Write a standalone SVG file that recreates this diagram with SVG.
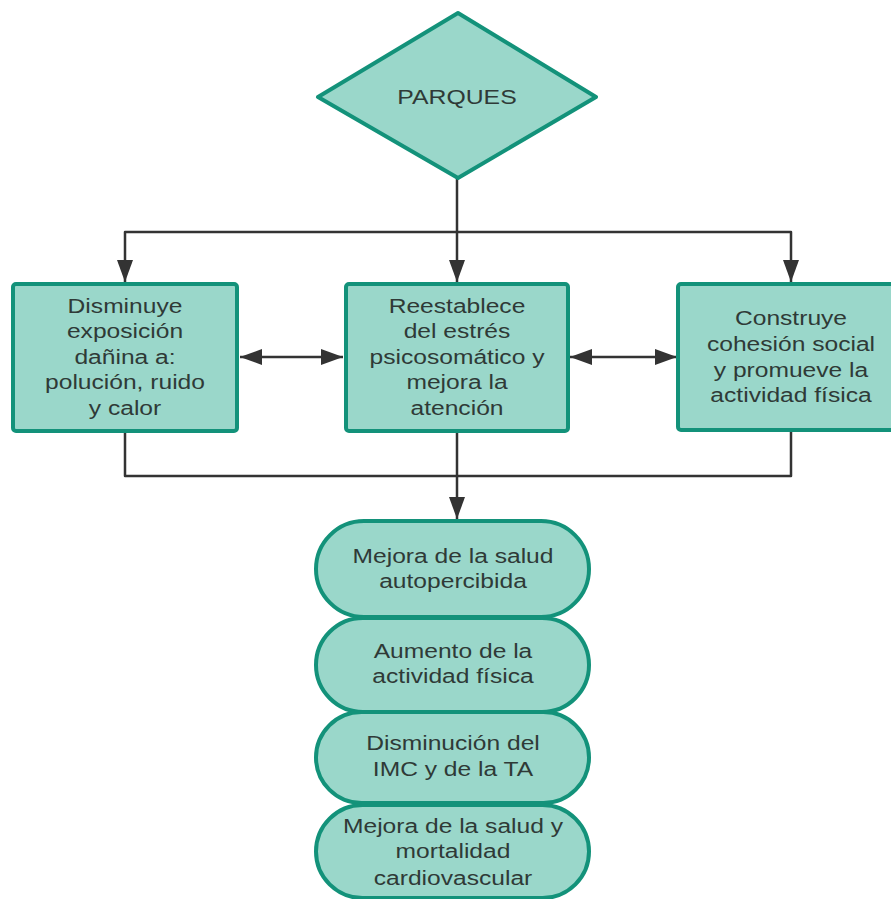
<svg xmlns="http://www.w3.org/2000/svg" width="891" height="899" viewBox="0 0 891 899">
<defs>
<style>
.shape{fill:#9ad7ca;stroke:#13927a;stroke-width:4;stroke-linejoin:round}
.line{fill:none;stroke:#333333;stroke-width:2.5;stroke-linejoin:round}
.txt{font-family:"Liberation Sans",Arial,sans-serif;font-size:20px;fill:#2f3a37;text-anchor:middle}
</style>
<marker id="ah" viewBox="0 0 22 16" refX="22" refY="8" markerWidth="22" markerHeight="16" markerUnits="userSpaceOnUse" orient="auto-start-reverse">
<path d="M0,0 L22,8 L0,16 Z" fill="#333333"/>
</marker>
</defs>
<rect width="891" height="899" fill="#ffffff"/>
<g id="connectors">
<path class="line" d="M457,177 V232"/>
<path class="line" d="M125,282 V232 H791 V282" marker-start="url(#ah)" marker-end="url(#ah)"/>
<path class="line" d="M457,232 V282" marker-end="url(#ah)"/>
<path class="line" d="M240,357 H343" marker-start="url(#ah)" marker-end="url(#ah)"/>
<path class="line" d="M570,357 H677" marker-start="url(#ah)" marker-end="url(#ah)"/>
<path class="line" d="M125,431 V476 H791 V431"/>
<path class="line" d="M457,431 V519" marker-end="url(#ah)"/>
</g>
<g id="parques">
<polygon class="shape" points="458,13 596,97 458,178 318,97"/>
<g transform="translate(457 0) scale(1.24 1)">
<text class="txt" x="0" y="104" font-size="18.5">PARQUES</text>
</g>
</g>
<g id="disminuye">
<rect class="shape" x="13" y="284" width="224" height="147" rx="3"/>
<g transform="translate(125 0) scale(1.23 1)">
<text class="txt" x="0" y="313">Disminuye</text>
<text class="txt" x="0" y="338.5">exposición</text>
<text class="txt" x="0" y="364">dañina a:</text>
<text class="txt" x="0" y="389.5">polución, ruido</text>
<text class="txt" x="0" y="415">y calor</text>
</g>
</g>
<g id="reestablece">
<rect class="shape" x="346" y="284" width="222" height="147" rx="3"/>
<g transform="translate(457 0) scale(1.23 1)">
<text class="txt" x="0" y="313">Reestablece</text>
<text class="txt" x="0" y="338.5">del estrés</text>
<text class="txt" x="0" y="364">psicosomático y</text>
<text class="txt" x="0" y="389.5">mejora la</text>
<text class="txt" x="0" y="415">atención</text>
</g>
</g>
<g id="construye">
<rect class="shape" x="678" y="284" width="226" height="146" rx="3"/>
<g transform="translate(791 0) scale(1.23 1)">
<text class="txt" x="0" y="325">Construye</text>
<text class="txt" x="0" y="351">cohesión social</text>
<text class="txt" x="0" y="377">y promueve la</text>
<text class="txt" x="0" y="402">actividad física</text>
</g>
</g>
<g id="salud-autopercibida">
<rect class="shape" x="316" y="521" width="273" height="96" rx="48"/>
<g transform="translate(453 0) scale(1.23 1)">
<text class="txt" x="0" y="563">Mejora de la salud</text>
<text class="txt" x="0" y="588">autopercibida</text>
</g>
</g>
<g id="actividad-fisica">
<rect class="shape" x="316" y="618" width="273" height="94" rx="47"/>
<g transform="translate(453 0) scale(1.23 1)">
<text class="txt" x="0" y="658">Aumento de la</text>
<text class="txt" x="0" y="683">actividad física</text>
</g>
</g>
<g id="imc-ta">
<rect class="shape" x="316" y="712" width="273" height="91" rx="45.5"/>
<g transform="translate(453 0) scale(1.23 1)">
<text class="txt" x="0" y="750">Disminución del</text>
<text class="txt" x="0" y="776">IMC y de la TA</text>
</g>
</g>
<g id="mortalidad">
<rect class="shape" x="316" y="805" width="273" height="93" rx="46.5"/>
<g transform="translate(453 0) scale(1.23 1)">
<text class="txt" x="0" y="833">Mejora de la salud y</text>
<text class="txt" x="0" y="858.5">mortalidad</text>
<text class="txt" x="0" y="885">cardiovascular</text>
</g>
</g>
</svg>
